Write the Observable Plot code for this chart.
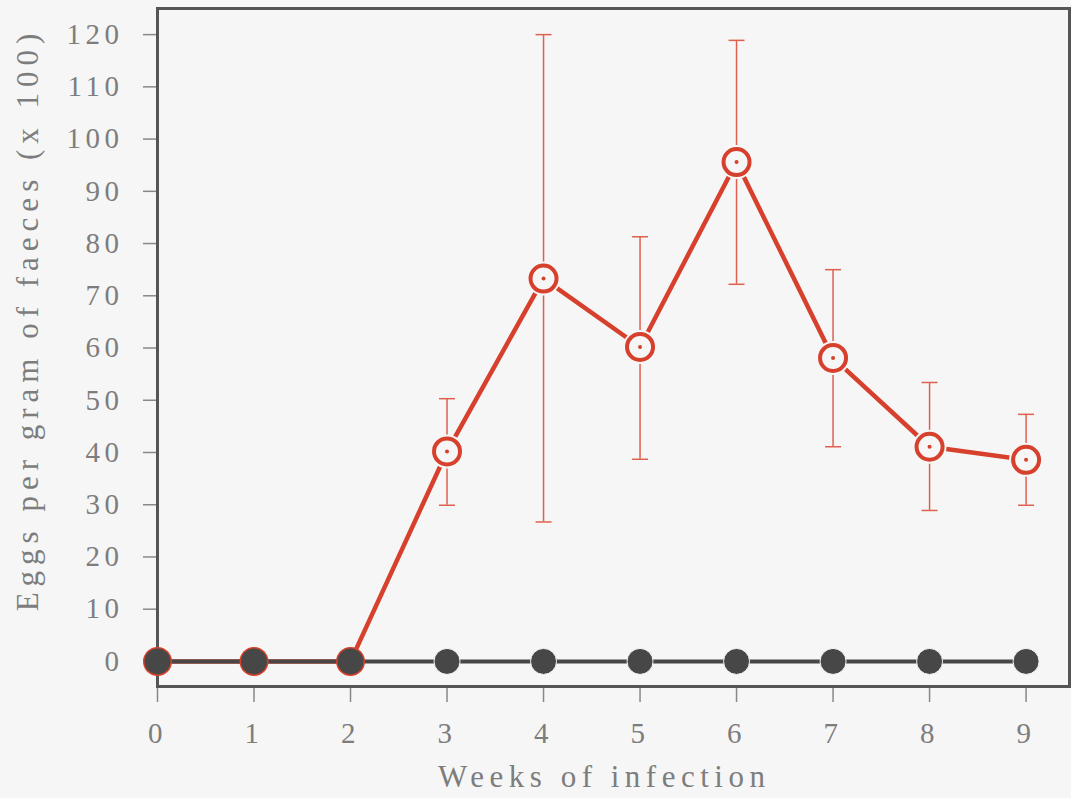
<!DOCTYPE html>
<html>
<head>
<meta charset="utf-8">
<script src="https://cdn.jsdelivr.net/npm/d3@7"></script>
<script src="https://cdn.jsdelivr.net/npm/@observablehq/plot@0.6"></script>
<style>
  html, body { margin: 0; padding: 0; background: #f6f6f6; }
  #chart svg { display: block; }
</style>
</head>
<body>
<div id="chart"></div>
<script>
// Data
const weeks = [0, 1, 2, 3, 4, 5, 6, 7, 8, 9];
const infectedMean = [0, 0, 0, 40.2, 73.3, 60.2, 95.6, 58.1, 41.1, 38.6];
const infectedLow  = [null, null, null, 29.9, 26.7, 38.7, 72.2, 41.1, 28.9, 29.9];
const infectedHigh = [null, null, null, 50.3, 120, 81.3, 118.9, 75.0, 53.4, 47.3];
const controlMean  = [0, 0, 0, 0, 0, 0, 0, 0, 0, 0];
const yTicks = [0, 10, 20, 30, 40, 50, 60, 70, 80, 90, 100, 110, 120];
const xTicks = [0, 1, 2, 3, 4, 5, 6, 7, 8, 9];
const yTitle = "Eggs per gram of faeces (x 100)";
const xTitle = "Weeks of infection";

const infected = weeks.map((w, i) => ({week: w, mean: infectedMean[i], lo: infectedLow[i], hi: infectedHigh[i]}));
const control = weeks.map((w, i) => ({week: w, mean: controlMean[i]}));
const withErr = infected.filter(d => d.lo != null);
const zeroInfected = infected.filter(d => d.lo == null);

const RED = "#d6402c";
const ERR = "#e0604e";
const DARK = "#474747";
const BG = "#f6f6f6";
const TXT = "#7d7d7d";
const FONT = "'Liberation Serif', serif";
const TICK_LS = 4.5, XT_LS = 5.5, YT_LS = 6;

const cap = {draw(ctx, size) { const w = Math.sqrt(size / Math.PI); ctx.moveTo(-w, 0); ctx.lineTo(w, 0); }};

const chart = Plot.plot({
  width: 1071,
  height: 798,
  marginLeft: 157,
  marginRight: 2,
  marginTop: 8,
  marginBottom: 112,
  style: {background: BG, fontFamily: FONT, color: TXT},
  x: {domain: [0, 9.45]},
  y: {domain: [-4.8, 125]},
  marks: [
    Plot.axisY({ticks: yTicks, tickSize: 14, tickPadding: 20, fontSize: 29, stroke: "#888", strokeWidth: 1.5,
      tickFormat: d => String(d), label: null}),
    Plot.axisX({ticks: xTicks, tickSize: 16, tickPadding: 20, fontSize: 29, stroke: "#888", strokeWidth: 1.5,
      tickFormat: d => String(d), label: null}),
    Plot.text([yTitle], {frameAnchor: "left", textAnchor: "middle", lineAnchor: "middle", rotate: -90,
      dx: -129, dy: -25 - YT_LS / 2, fontSize: 31, fill: TXT}),
    Plot.text([xTitle], {frameAnchor: "bottom", textAnchor: "middle", lineAnchor: "middle",
      dx: -12 + XT_LS / 2, dy: 91, fontSize: 31, fill: TXT}),
    Plot.frame({stroke: "#555", strokeWidth: 3}),
    // error bars
    Plot.ruleX(withErr, {x: "week", y1: "lo", y2: "hi", stroke: ERR, strokeWidth: 1.5}),
    Plot.dot(withErr, {x: "week", y: "lo", symbol: cap, r: 8, stroke: ERR, strokeWidth: 1.5}),
    Plot.dot(withErr, {x: "week", y: "hi", symbol: cap, r: 8, stroke: ERR, strokeWidth: 1.5}),
    // infected line
    Plot.line(infected, {x: "week", y: "mean", stroke: RED, strokeWidth: 4.5}),
    // control line
    Plot.line(control, {x: "week", y: "mean", stroke: DARK, strokeWidth: 4}),
    // red underlay at zero weeks
    Plot.dot(zeroInfected, {x: "week", y: "mean", r: 14.5, fill: RED}),
    // control dots
    Plot.dot(control, {x: "week", y: "mean", r: 13, fill: DARK, stroke: BG, strokeWidth: 1,
      filter: d => d.week >= 3}),
    Plot.dot(control, {x: "week", y: "mean", r: 13, fill: DARK, filter: d => d.week < 3}),
    // infected open markers
    Plot.dot(withErr, {x: "week", y: "mean", r: 17, fill: BG}),
    Plot.dot(withErr, {x: "week", y: "mean", r: 13, fill: BG, stroke: RED, strokeWidth: 4}),
    Plot.dot(withErr, {x: "week", y: "mean", r: 2, fill: RED})
  ]
});
// wide, typewriter-like spacing as in the reference
d3.select(chart).selectAll("text").each(function() {
  const t = this.textContent.trim();
  const ls = /^\d+$/.test(t) ? TICK_LS : (t === xTitle ? XT_LS : YT_LS);
  d3.select(this).style("letter-spacing", ls + "px");
});
document.getElementById("chart").appendChild(chart);
</script>
</body>
</html>
